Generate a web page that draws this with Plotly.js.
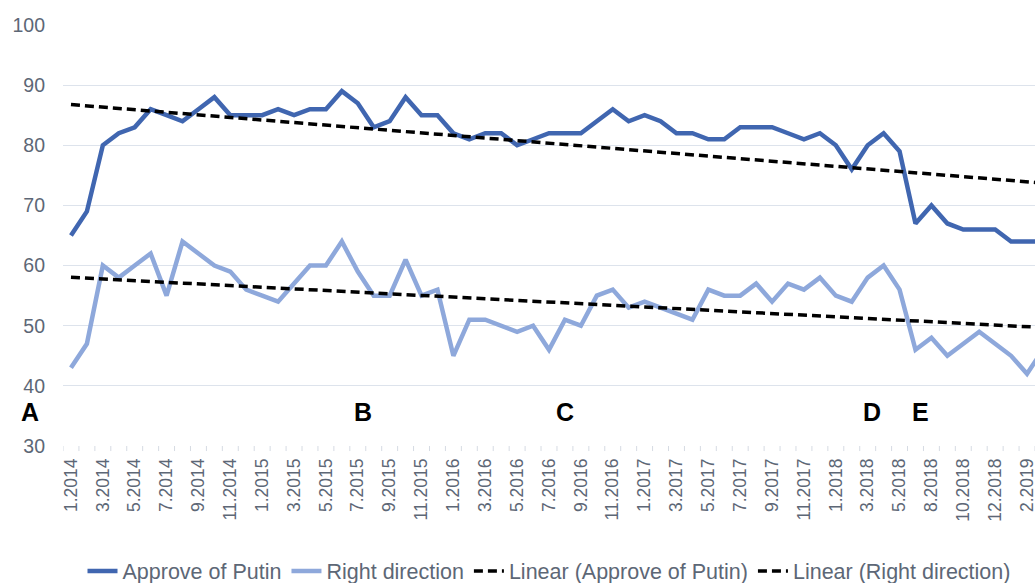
<!DOCTYPE html>
<html>
<head>
<meta charset="utf-8">
<script src="https://cdn.plot.ly/plotly-3.0.1.min.js"></script>
<style>html,body{margin:0;padding:0;background:#fff;}#chart{width:1035px;height:583px;}</style>
</head>
<body>
<div id="chart"></div>
<script>
// Survey months (one month in mid-2018 has no survey)
const months = [
  "1.2014","2.2014","3.2014","4.2014","5.2014","6.2014","7.2014","8.2014","9.2014","10.2014","11.2014","12.2014",
  "1.2015","2.2015","3.2015","4.2015","5.2015","6.2015","7.2015","8.2015","9.2015","10.2015","11.2015","12.2015",
  "1.2016","2.2016","3.2016","4.2016","5.2016","6.2016","7.2016","8.2016","9.2016","10.2016","11.2016","12.2016",
  "1.2017","2.2017","3.2017","4.2017","5.2017","6.2017","7.2017","8.2017","9.2017","10.2017","11.2017","12.2017",
  "1.2018","2.2018","3.2018","4.2018","5.2018","6.2018","8.2018","9.2018","10.2018","11.2018","12.2018",
  "1.2019","2.2019","3.2019"
];
const approvePutin = [
  65,69,80,82,83,86,85,84,86,88,85,85,
  85,86,85,86,86,89,87,83,84,88,85,85,
  82,81,82,82,80,81,82,82,82,84,86,84,
  85,84,82,82,81,81,83,83,83,82,81,82,
  80,76,80,82,79,67,70,67,66,66,66,
  64,64,64
];
const rightDirection = [
  43,47,60,58,60,62,55,64,62,60,59,56,
  55,54,57,60,60,64,59,55,55,61,55,56,
  45,51,51,50,49,50,46,51,50,55,56,53,
  54,53,52,51,56,55,55,57,54,57,56,58,
  55,54,58,60,56,46,48,45,47,49,47,
  45,42,46
];
const tickLabels = months.map((m, i) => (i % 2 === 0 ? m : ""));
const eventLetters = ["A","B","C","D","E"];
const eventPositions = [-2.55, 18.3, 31.0, 50.3, 53.3];

function linearFit(ys) {
  const n = ys.length;
  let sx = 0, sy = 0, sxx = 0, sxy = 0;
  ys.forEach((y, i) => { sx += i; sy += y; sxx += i * i; sxy += i * y; });
  const b = (n * sxy - sx * sy) / (n * sxx - sx * sx);
  const a = (sy - b * sx) / n;
  return ys.map((_, i) => a + b * i);
}
const idx = months.map((_, i) => i);

const axisFont = {family: "Liberation Sans, Arial, sans-serif", color: "#5d6776"};
const traces = [
  {x: idx, y: approvePutin, type: "scatter", mode: "lines", name: "Approve of Putin",
   line: {color: "#4066b0", width: 4.5}},
  {x: idx, y: rightDirection, type: "scatter", mode: "lines", name: "Right direction",
   line: {color: "#8ea8db", width: 4.5}},
  {x: idx, y: linearFit(approvePutin), type: "scatter", mode: "lines", name: "Linear (Approve of Putin)",
   line: {color: "#000000", width: 3.5, dash: "9px,5px"}},
  {x: idx, y: linearFit(rightDirection), type: "scatter", mode: "lines", name: "Linear (Right direction)",
   line: {color: "#000000", width: 3.5, dash: "9px,5px"}}
];

// x-axis: plot spans index -0.5 .. 60.5
const xToPaper = v => (v + 0.5) / 61;
const annotations = eventLetters.map((t, k) => ({
  x: xToPaper(eventPositions[k]), y: 35.7, xref: "paper", yref: "y", xanchor: "center", yanchor: "middle",
  text: "<b>" + t + "</b>",
  showarrow: false, font: {family: "Liberation Sans, Arial, sans-serif", size: 25, color: "#000"}
}));

const layout = {
  width: 1035, height: 583,
  margin: {l: 63, r: 0, t: 25, b: 137, autoexpand: false},
  paper_bgcolor: "#fff", plot_bgcolor: "#fff",
  showlegend: true,
  legend: {orientation: "h", x: 0.5, xanchor: "center", y: -0.297, yanchor: "middle",
    font: {family: "Liberation Sans, Arial, sans-serif", size: 21.5, color: "#5d6776"},
    itemwidth: 30, tracegroupgap: 0},
  xaxis: {
    type: "linear", range: [-0.5, 60.5], tickmode: "array", tickvals: idx, ticktext: tickLabels,
    tickangle: -90, tickfont: Object.assign({size: 17.5}, axisFont), ticklabeloverflow: "allow",
    ticklabelstandoff: 8,
    showgrid: false, zeroline: false, showline: false, automargin: false,
    ticks: "", fixedrange: true
  },
  yaxis: {
    range: [30, 100], dtick: 10, tick0: 30, tickfont: Object.assign({size: 19.5}, axisFont),
    gridcolor: "#dde3ec", gridwidth: 1, zeroline: false, showline: false, ticks: "",
    ticklabelstandoff: 17, automargin: false
  },
  shapes: months.map((_, i) => ({
    type: "line", xref: "x", yref: "paper", x0: i - 0.5, x1: i - 0.5, y0: 0, y1: -0.012,
    line: {color: "#d6dbe3", width: 1}
  })),
  annotations: annotations
};

Plotly.newPlot("chart", traces, layout, {displayModeBar: false, staticPlot: true});
</script>
</body>
</html>
